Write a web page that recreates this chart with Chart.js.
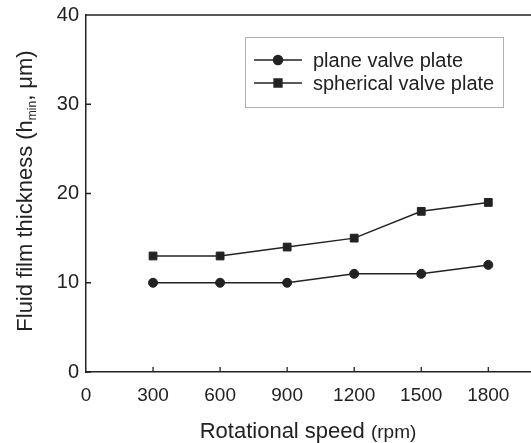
<!DOCTYPE html>
<html>
<head>
<meta charset="utf-8">
<script src="https://cdn.jsdelivr.net/npm/chart.js@4/dist/chart.umd.min.js"></script>
<style>
  html, body { margin: 0; padding: 0; background: #fff; overflow: hidden; }
  #wrap { width: 540px; height: 443px; }
</style>
</head>
<body>
<div id="wrap"><canvas id="filmChart" width="540" height="443"></canvas></div>
<script>
const speeds = [300, 600, 900, 1200, 1500, 1800];
const planeData = [10, 10, 10, 11, 11, 12];
const sphericalData = [13, 13, 14, 15, 18, 19];
const seriesNames = ['plane valve plate', 'spherical valve plate'];
const xTicks = [0, 300, 600, 900, 1200, 1500, 1800];
const yTicks = [0, 10, 20, 30, 40];

const font = '"Liberation Sans", Arial, sans-serif';
const ink = '#222';

// inward tick marks, top border, axis titles and the boxed legend
const decor = {
    id: 'decor',
    afterDraw(chart) {
        const c = chart.ctx;
        const a = chart.chartArea;
        const x = chart.scales.x, y = chart.scales.y;
        c.save();
        c.strokeStyle = ink;
        c.lineWidth = 1.3;
        c.beginPath();
        x.ticks.forEach(t => {
            if (t.value === 0) return;
            const px = x.getPixelForValue(t.value);
            c.moveTo(px, a.bottom); c.lineTo(px, a.bottom - 5);
        });
        y.ticks.forEach(t => {
            const py = y.getPixelForValue(t.value);
            c.moveTo(a.left, py); c.lineTo(a.left + 5, py);
        });
        c.moveTo(a.left, a.top); c.lineTo(a.right, a.top);
        c.stroke();

        // x title, unit in a smaller size
        c.fillStyle = ink;
        c.textBaseline = 'alphabetic';
        c.textAlign = 'left';
        const t1 = 'Rotational speed ';
        c.font = '22px ' + font;
        const w1 = c.measureText(t1).width;
        c.font = '19px ' + font;
        const w2 = c.measureText('(rpm)').width;
        const sx = 308 - (w1 + w2) / 2;
        c.font = '22px ' + font;
        c.fillText(t1, sx, 438);
        c.font = '19px ' + font;
        c.fillText('(rpm)', sx + w1, 438);

        // y title with subscript
        c.save();
        c.translate(32, 191);
        c.rotate(-Math.PI / 2);
        const parts = [
            ['Fluid film thickness (h', '22px', 0],
            ['min', '12px', 4],
            [', \u03bcm)', '22px', 0]
        ];
        let total = 0;
        parts.forEach(p => { c.font = p[1] + ' ' + font; total += c.measureText(p[0]).width; });
        let px = -total / 2;
        parts.forEach(p => {
            c.font = p[1] + ' ' + font;
            c.fillText(p[0], px, p[2]);
            px += c.measureText(p[0]).width;
        });
        c.restore();

        // legend box
        c.strokeStyle = '#b0b0b0';
        c.lineWidth = 1;
        c.strokeRect(245.5, 37.5, 258, 70);
        const rows = [60, 83];
        c.textBaseline = 'middle';
        chart.data.datasets.forEach((ds, i) => {
            const ry = rows[i];
            c.strokeStyle = ink;
            c.lineWidth = 1.5;
            c.beginPath();
            c.moveTo(254, ry); c.lineTo(302, ry);
            c.stroke();
            c.fillStyle = ink;
            Chart.helpers.drawPoint(c, {
                pointStyle: ds.pointStyle, radius: ds.pointRadius, borderWidth: 1
            }, 278, ry);
            c.font = '20px ' + font;
            c.fillText(ds.label, 313, ry + 1);
        });
        c.restore();
    }
};

new Chart(document.getElementById('filmChart').getContext('2d'), {
    type: 'line',
    data: {
        datasets: [{
                label: seriesNames[0],
                data: speeds.map((s, i) => ({ x: s, y: planeData[i] })),
                borderColor: ink,
                backgroundColor: ink,
                borderWidth: 1.5,
                pointStyle: 'circle',
                pointRadius: 4.5,
                pointBorderWidth: 1,
                tension: 0,
            },
            {
                label: seriesNames[1],
                data: speeds.map((s, i) => ({ x: s, y: sphericalData[i] })),
                borderColor: ink,
                backgroundColor: ink,
                borderWidth: 1.5,
                pointStyle: 'rect',
                pointRadius: 5.5,
                pointBorderWidth: 1,
                tension: 0,
            }
        ]
    },
    options: {
        responsive: false,
        animation: false,
        events: [],
        layout: { padding: { left: 0, top: 15, right: 7, bottom: 0 } },
        plugins: { legend: { display: false }, tooltip: { enabled: false } },
        scales: {
            x: {
                type: 'linear',
                min: 0,
                max: 2000,
                afterBuildTicks: s => { s.ticks = xTicks.map(v => ({ value: v })); },
                afterFit: s => { s.height = 71; s.paddingLeft = 0; s.paddingRight = 0; },
                grid: { display: false, tickLength: 0 },
                border: { color: ink, width: 1.5 },
                ticks: { color: ink, padding: 12, autoSkip: false, maxRotation: 0,
                         callback: v => String(v), font: { family: font, size: 19 } }
            },
            y: {
                min: 0,
                max: 40,
                afterBuildTicks: s => { s.ticks = yTicks.map(v => ({ value: v })); },
                afterFit: s => { s.width = 86; s.paddingTop = 0; s.paddingBottom = 0; },
                grid: { display: false, tickLength: 0 },
                border: { color: ink, width: 1.5 },
                ticks: { color: ink, padding: 7, callback: v => String(v),
                         font: { family: font, size: 20 } }
            }
        }
    },
    plugins: [decor]
});
</script>
</body>
</html>
